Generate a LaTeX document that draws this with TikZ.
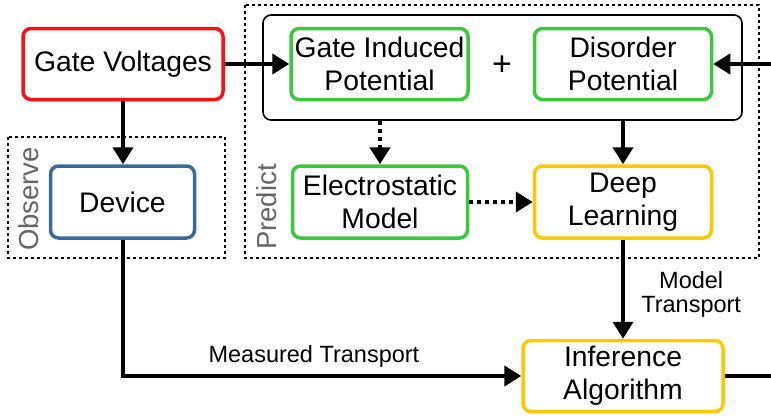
\documentclass[tikz,border=0pt]{standalone}
\usepackage{fontspec}
\setmainfont{Liberation Sans}
\usetikzlibrary{arrows.meta}
\definecolor{cred}{HTML}{FF1010}
\definecolor{cgreen}{HTML}{3CC83C}
\definecolor{cblue}{HTML}{3A6A9C}
\definecolor{cyellow}{HTML}{FFC800}
\definecolor{cgray}{HTML}{666666}
\tikzset{
  box/.style={draw, rounded corners=8pt, line width=3.5pt, align=center,
    font=\fontsize{28.3}{33}\selectfont, inner sep=0pt},
  lbl/.style={align=center, font=\fontsize{23.5}{24}\selectfont},
  arr/.style={line width=4pt, -{Triangle[length=17pt,width=20pt]}},
  dotarr/.style={arr, dash pattern=on 4pt off 4pt},
  grp/.style={line width=1.8pt, dash pattern=on 3pt off 3pt},
  grplbl/.style={text=cgray, font=\fontsize{27.5}{33}\selectfont, rotate=90}
}
\begin{document}
\begin{tikzpicture}[x=1pt,y=-1pt]
\useasboundingbox (0,0) rectangle (771,416);
% group boxes
\draw[grp] (8,137) rectangle (225,258);
\draw[grp] (245,5) rectangle (759,258);
\node[grplbl] (obs) at (29,199) {Observe};
\node[grplbl] (pred) at (267,207) {Predict};
% container
\node[draw, rounded corners=8pt, line width=1.6pt, minimum width=479pt, minimum height=105pt, inner sep=0pt] (pot) at (502.5,67.5) {};
% boxes
\node[box, draw=cred, minimum width=200pt, minimum height=71pt] (gv) at (123,64) {Gate Voltages};
\node[box, draw=cblue, minimum width=144pt, minimum height=72pt] (dev) at (122.5,202) {Device};
\node[box, draw=cgreen, minimum width=177pt, minimum height=71pt] (gip) at (379.5,64) {Gate Induced\\Potential};
\node[box, draw=cgreen, minimum width=177pt, minimum height=71pt] (dp) at (623,64) {Disorder\\Potential};
\node[font=\fontsize{34}{34}\selectfont] (plus) at (502,66) {+};
\node[box, draw=cgreen, minimum width=175pt, minimum height=72pt] (em) at (380,202) {Electrostatic\\Model};
\node[box, draw=cyellow, minimum width=177pt, minimum height=72pt] (dl) at (623,202) {Deep\\Learning};
\node[box, draw=cyellow, minimum width=200pt, minimum height=71pt] (inf) at (623,376) {Inference\\Algorithm};
\coordinate (rin) at (771,64);
\coordinate (rout) at (771,376);
% connectors
\draw[arr] (gv.east) -- (gip.west);
\draw[arr] (rin) -- (dp.east);
\draw[arr] (gv.south) -- (gv.south |- dev.north);
\draw[dotarr] (pot.south -| em.north) -- (em.north);
\draw[arr] (pot.south -| dl.north) -- (dl.north);
\draw[dotarr] (em.east) -- (dl.west);
\draw[arr] (dl.south) -- node[lbl, right=13pt, pos=0.55] (mt) {Model\\Transport} (inf.north);
\draw[arr] (dev.south) |- node[lbl, above=3pt, pos=0.74] (ms) {Measured Transport} (inf.west);
\draw[line width=4pt] (inf.east) -- (rout);
\end{tikzpicture}
\end{document}
